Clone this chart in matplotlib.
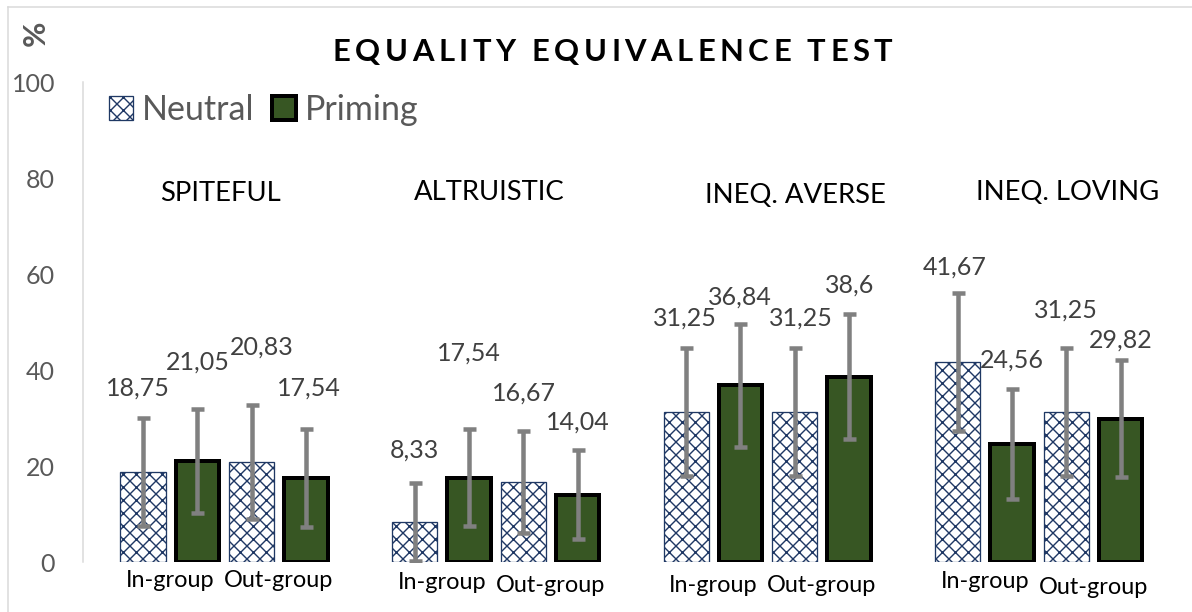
import matplotlib
matplotlib.use("Agg")
import matplotlib.pyplot as plt
from matplotlib.lines import Line2D

# ---------------- data ----------------
groups = ["SPITEFUL", "ALTRUISTIC", "INEQ. AVERSE", "INEQ. LOVING"]
subgroups = ["In-group", "Out-group"]
series_names = ["Neutral", "Priming"]
# order: (group, subgroup) -> SPITEFUL in, SPITEFUL out, ALTRUISTIC in, ...
neutral_values = [18.75, 20.83, 8.33, 16.67, 31.25, 31.25, 41.67, 31.25]
priming_values = [21.05, 17.54, 17.54, 14.04, 36.84, 38.6, 24.56, 29.82]
neutral_err = [11.2, 11.8, 8.1, 10.6, 13.4, 13.4, 14.4, 13.4]
priming_err = [10.8, 10.2, 10.1, 9.2, 12.8, 13.0, 11.4, 12.2]
yticks = [0, 20, 40, 60, 80, 100]
title = "EQUALITY EQUIVALENCE TEST"
ylabel = "%"

# ---------------- layout (pixels / data-y for labels) ----------------
W, H = 1192, 612
DPI = 78
def pt(px):
    return px * 72.0 / DPI

neutral_label_y = [36.25, 44.8, 23.3, 35.2, 50.8, 50.8, 61.5, 52.5]
priming_label_y = [41.7, 36.25, 43.5, 29.2, 55.2, 57.7, 42.1, 46.25]
neutral_label_dx = [-5, 10, 0, 1, -1, 6, -3, 0]
priming_label_dx = [0, 3, 0, 0, -1, 1, 0, 0]
group_title_px = [(220, 193), (489, 192), (795, 195), (1067, 192)]
cat_label_py = [(580, 580), (582, 585), (585, 585), (581, 587)]

plt.rcParams["font.family"] = ["Lato", "DejaVu Sans"]
plt.rcParams["hatch.linewidth"] = pt(1.4)

fig = plt.figure(figsize=((W + 0.3) / DPI, (H + 0.3) / DPI), dpi=DPI)
fig.patch.set_facecolor("white")

AX_L, AX_R, AX_T, AX_B = 83, 1185, 82, 562
X0, STEP = 143, 54.3
ax = fig.add_axes([AX_L / W, 1 - AX_B / H, (AX_R - AX_L) / W, (AX_B - AX_T) / H])
ax.set_xlim((AX_L - X0) / STEP, (AX_R - X0) / STEP)
ax.set_ylim(0, 100)

idx_n = [5 * g + 2 * s for g in range(len(groups)) for s in range(len(subgroups))]
idx_p = [i + 1 for i in idx_n]

navy = "#1f3864"
green = "#375623"
bn = ax.bar(idx_n, neutral_values, width=0.83, color="white", edgecolor=navy,
            hatch="xx", linewidth=pt(1.3), label=series_names[0], zorder=2)
bp = ax.bar(idx_p, priming_values, width=0.80, color=green, edgecolor="black",
            linewidth=pt(4), label=series_names[1], zorder=2)

for idx, vals, errs in ((idx_n, neutral_values, neutral_err), (idx_p, priming_values, priming_err)):
    ax.errorbar(idx, vals, yerr=errs, fmt="none", ecolor="#808080",
                elinewidth=pt(4.5), capsize=pt(6.5), capthick=pt(4.5), zorder=3)

def fmt(v):
    return f"{v:g}".replace(".", ",")

for idx, vals, ly, dx in ((idx_n, neutral_values, neutral_label_y, neutral_label_dx),
                          (idx_p, priming_values, priming_label_y, priming_label_dx)):
    for i, v, y, d in zip(idx, vals, ly, dx):
        ax.annotate(fmt(v), (i, y), xytext=(pt(d), 0), textcoords="offset points",
                    ha="center", va="center", fontsize=pt(25), color="#404040")

for s in ("top", "right", "bottom"):
    ax.spines[s].set_visible(False)
ax.spines["left"].set_color("#d9d9d9")
ax.spines["left"].set_linewidth(pt(1.5))
ax.set_xticks([])
ax.set_yticks(yticks)
ax.tick_params(axis="y", length=0, pad=pt(28), labelsize=pt(25), labelcolor="#595959")

# category labels under bars
for g in range(len(groups)):
    for s in range(len(subgroups)):
        xc = X0 + STEP * (5 * g + 2 * s + 0.5)
        fig.text(xc / W, 1 - cat_label_py[g][s] / H, subgroups[s], ha="center", va="center",
                 fontsize=pt(23.5), color="black")

# group titles
for name, (px, py) in zip(groups, group_title_px):
    fig.text(px / W, 1 - py / H, name, ha="center", va="center", fontsize=pt(27.5), color="black")

# legend
fig.legend(handles=[bn, bp], labels=series_names, loc="center left",
           bbox_to_anchor=(109 / W, 1 - 110 / H), ncol=2, frameon=False,
           fontsize=pt(34), handlelength=0.7, handleheight=0.7,
           handletextpad=0.28, columnspacing=0.5, borderpad=0, borderaxespad=0,
           labelcolor="#595959")

# y unit
fig.text(36 / W, 1 - 33 / H, ylabel, rotation=90, fontweight="bold", color="#595959",
         fontsize=pt(31), ha="center", va="center")

# letter-spaced title
renderer = fig.canvas.get_renderer()
tfs = pt(31)
tracking = 4.5
space_w = 7.0
widths = []
for ch in title:
    if ch == " ":
        widths.append(space_w)
    else:
        t = fig.text(0, 0, ch, fontsize=tfs, fontweight="bold")
        widths.append(t.get_window_extent(renderer).width)
        t.remove()
total = sum(widths) + tracking * (len(title) - 1)
x = (335 + 890) / 2 - total / 2
for ch, w in zip(title, widths):
    if ch != " ":
        fig.text(x / W, 1 - 52 / H, ch, fontsize=tfs, fontweight="bold", color="black",
                 ha="left", va="center")
    x += w + tracking

# chart border (top and left edges visible)
fig.add_artist(Line2D([8 / W, 8 / W], [0, 1 - 7 / H], transform=fig.transFigure,
                      color="#d9d9d9", lw=pt(1.5)))
fig.add_artist(Line2D([8 / W, 1], [1 - 7 / H, 1 - 7 / H], transform=fig.transFigure,
                      color="#d9d9d9", lw=pt(1.5)))

fig.savefig("out.png", dpi=DPI, facecolor="white")
